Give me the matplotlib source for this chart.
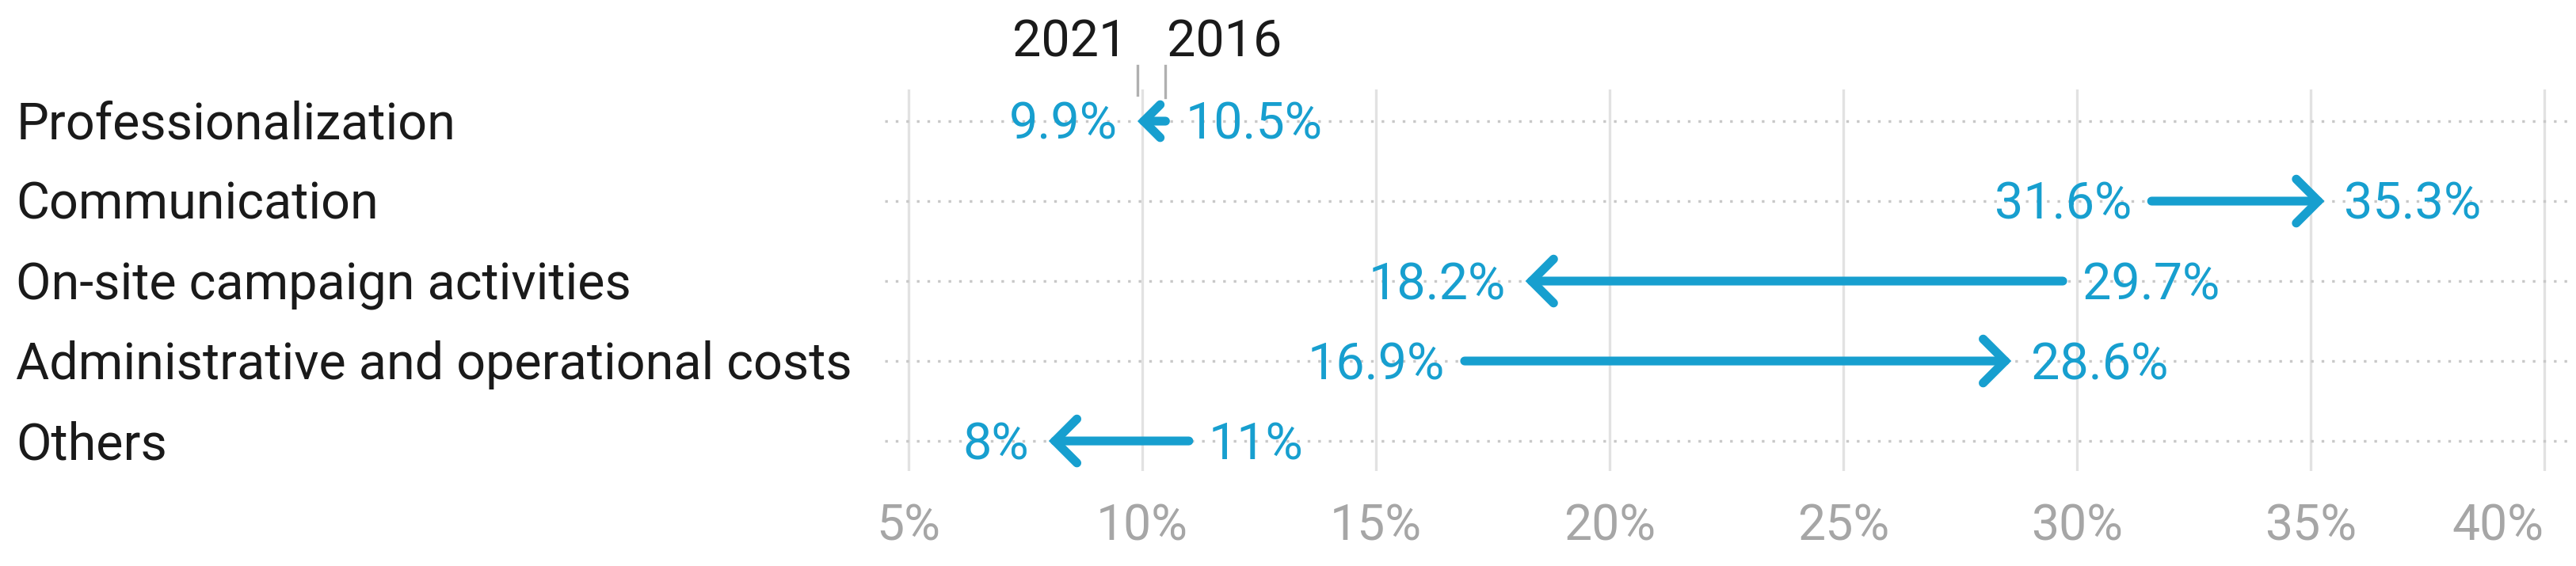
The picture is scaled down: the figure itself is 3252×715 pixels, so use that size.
import matplotlib
matplotlib.use("Agg")
import matplotlib.pyplot as plt
from matplotlib.patches import FancyArrowPatch
from matplotlib.transforms import blended_transform_factory

plt.rcParams['font.family'] = ['Roboto', 'DejaVu Sans']

# data (share of spending, %)
categories = ["Professionalization", "Communication", "On-site campaign activities",
              "Administrative and operational costs", "Others"]
v2016 = [10.5, 31.6, 29.7, 16.9, 11.0]
v2021 = [9.9, 35.3, 18.2, 28.6, 8.0]
xticks = [5, 10, 15, 20, 25, 30, 35, 40]
years = ["2016", "2021"]

BLUE = '#179fcf'
FS = 46.5
DY = -0.3555 * FS  # baseline shift so digits/caps sit centred on the row line

fig = plt.figure(figsize=(32.52, 7.15), dpi=100)
ax = fig.add_axes([0.3436, 0.1678, 0.6531, 0.6741])
ax.set_xlim(4.5, 40.5)
ax.set_ylim(4.376, -0.396)

for s in ax.spines.values():
    s.set_visible(False)
ax.set_yticks([])
ax.set_xticks(xticks)
ax.set_xticklabels([f"{t}%" for t in xticks])
ax.tick_params(axis='x', length=0, pad=29, labelsize=45, labelcolor='#a6a6a6')
ax.get_xticklabels()[-1].set_horizontalalignment('right')
ax.grid(axis='x', color='#e2e2e2', linewidth=2.4)
ax.set_axisbelow(True)

trans = blended_transform_factory(fig.transFigure, ax.transData)

for i, (cat, a, b) in enumerate(zip(categories, v2016, v2021)):
    # dotted row guide
    ax.axhline(i, color='#c8c8c8', linewidth=2.4, linestyle=(0, (1, 3)), zorder=1)
    ax.annotate(cat, (0.0062, i), xycoords=trans, xytext=(0, DY), textcoords='offset points',
                ha='left', va='baseline', fontsize=FS, color='#1a1a1a')

    # arrow from 2016 to 2021, smaller head for tiny changes
    k = min(1.0, abs(b - a) / 0.8)
    arr = FancyArrowPatch((a, i), (b, i),
                          arrowstyle=f"->,head_length={20 * k},head_width={20 * k}",
                          mutation_scale=1, color=BLUE, linewidth=8,
                          capstyle='round', joinstyle='miter',
                          shrinkA=0, shrinkB=0, zorder=3)
    ax.add_patch(arr)

    lo, hi = min(a, b), max(a, b)
    ax.annotate(f"{lo:g}%", (lo, i), xytext=(-18, DY), textcoords='offset points',
                ha='right', va='baseline', fontsize=FS, color=BLUE, zorder=4)
    ax.annotate(f"{hi:g}%", (hi, i), xytext=(18, DY), textcoords='offset points',
                ha='left', va='baseline', fontsize=FS, color=BLUE, zorder=4)

# year markers above the first row
y_txt = -0.81
ax.plot([v2021[0], v2021[0]], [-0.69, -0.33], color='#b0b0b0', linewidth=2.4, clip_on=False)
ax.plot([v2016[0], v2016[0]], [-0.69, -0.30], color='#b0b0b0', linewidth=2.4, clip_on=False)
ax.annotate(years[1], (v2021[0], y_txt), xytext=(-9, 0), textcoords='offset points',
            ha='right', va='baseline', fontsize=FS, color='#1a1a1a', annotation_clip=False)
ax.annotate(years[0], (v2016[0], y_txt), xytext=(1, 0), textcoords='offset points',
            ha='left', va='baseline', fontsize=FS, color='#1a1a1a', annotation_clip=False)

fig.savefig("out.png", dpi=100)
